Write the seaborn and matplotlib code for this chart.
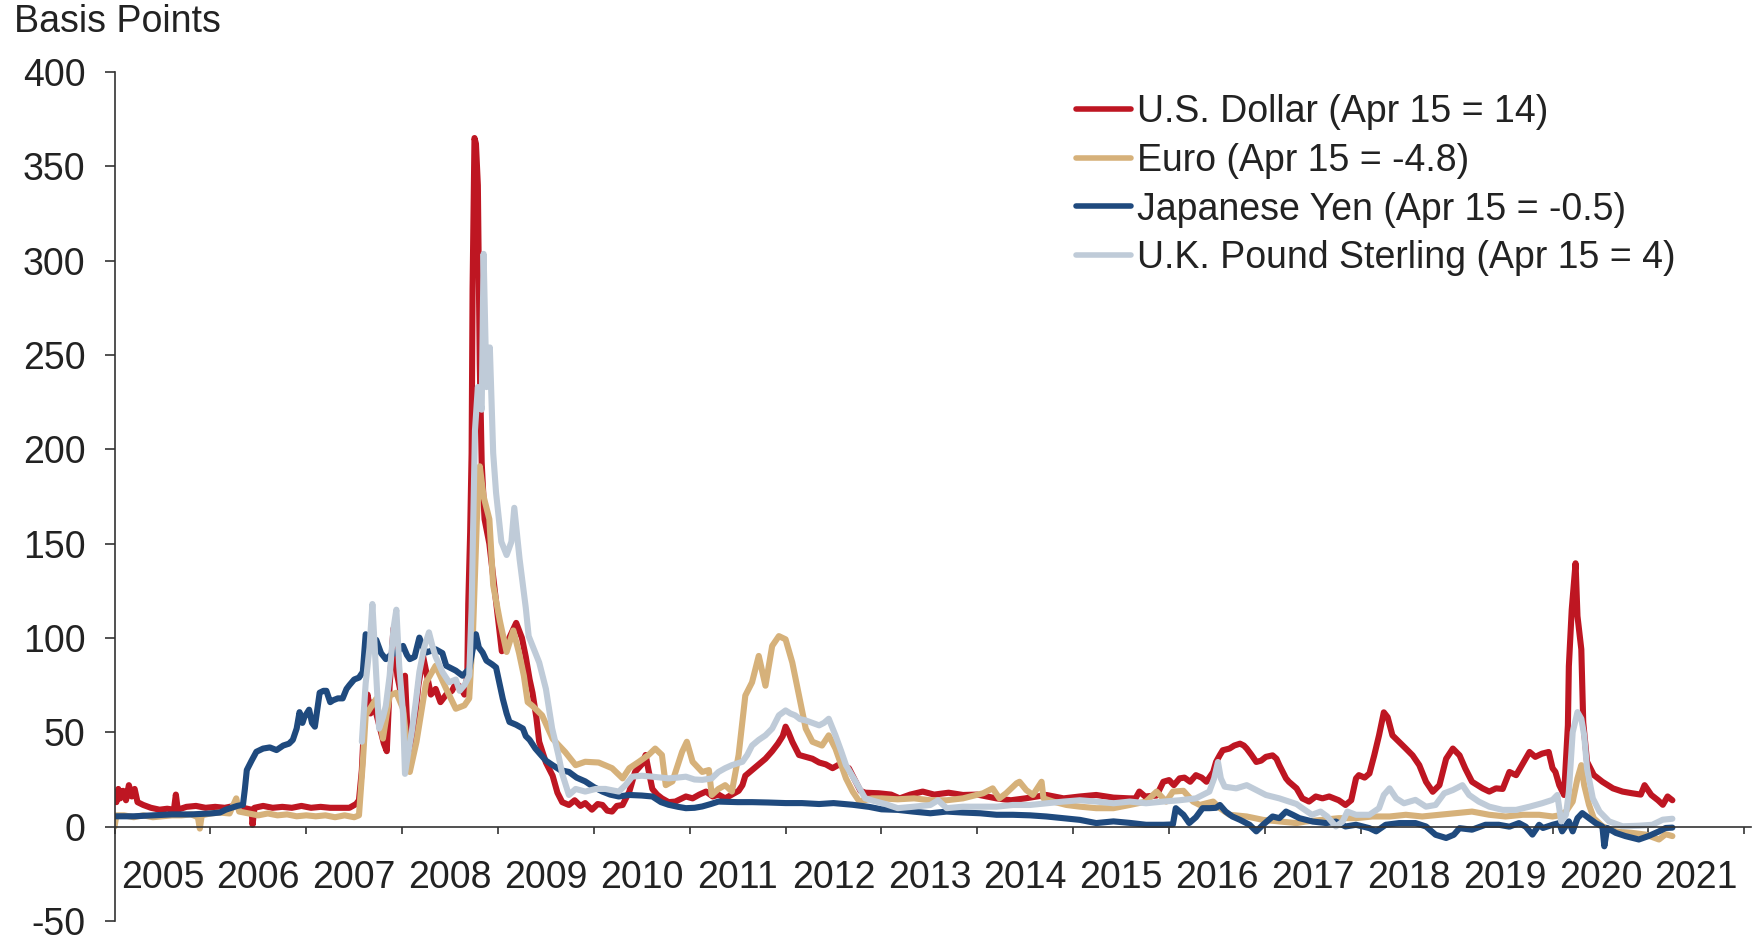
import matplotlib
matplotlib.use("Agg")
import matplotlib.pyplot as plt
from matplotlib.ticker import FixedLocator, NullFormatter, FixedFormatter
import seaborn as sns
import pandas as pd

# ---------------- data (decimal years, basis points) ----------------
USD_X = [2005.00, 2005.02, 2005.04, 2005.06, 2005.09, 2005.12, 2005.15, 2005.18, 2005.21, 2005.24,
         2005.30, 2005.38, 2005.47, 2005.55, 2005.62, 2005.64, 2005.66, 2005.75, 2005.85, 2005.95,
         2006.05, 2006.15, 2006.25, 2006.34, 2006.43, 2006.44, 2006.46, 2006.55, 2006.65, 2006.75,
         2006.85, 2006.95, 2007.05, 2007.15, 2007.25, 2007.35, 2007.45, 2007.52, 2007.55, 2007.58,
         2007.61, 2007.64, 2007.67, 2007.70, 2007.74, 2007.78, 2007.81, 2007.84, 2007.87, 2007.91,
         2007.95, 2007.99, 2008.03, 2008.06, 2008.09, 2008.13, 2008.17, 2008.22, 2008.26, 2008.30,
         2008.35, 2008.40, 2008.46, 2008.52, 2008.56, 2008.61, 2008.65, 2008.68, 2008.69, 2008.71,
         2008.725, 2008.735, 2008.755, 2008.77, 2008.79, 2008.81, 2008.83, 2008.86, 2008.91, 2008.96,
         2009.04, 2009.09, 2009.19, 2009.25, 2009.29, 2009.33, 2009.36, 2009.40, 2009.43, 2009.50,
         2009.57, 2009.62, 2009.67, 2009.74, 2009.80, 2009.86, 2009.91, 2009.98, 2010.04, 2010.09,
         2010.14, 2010.19, 2010.24, 2010.30, 2010.37, 2010.43, 2010.50, 2010.54, 2010.57, 2010.61,
         2010.66, 2010.71, 2010.78, 2010.85, 2010.96, 2011.03, 2011.10, 2011.17, 2011.24, 2011.30,
         2011.37, 2011.44, 2011.51, 2011.55, 2011.58, 2011.65, 2011.72, 2011.79, 2011.86, 2011.92,
         2011.97, 2012.00, 2012.03, 2012.07, 2012.14, 2012.21, 2012.28, 2012.35, 2012.42, 2012.49,
         2012.56, 2012.62, 2012.66, 2012.73, 2012.78, 2012.83, 2012.97, 2013.10, 2013.19, 2013.30,
         2013.43, 2013.55, 2013.70, 2013.85, 2014.00, 2014.20, 2014.35, 2014.50, 2014.72, 2014.90,
         2015.07, 2015.24, 2015.42, 2015.59, 2015.65, 2015.69, 2015.75, 2015.87, 2015.94, 2016.00,
         2016.05, 2016.11, 2016.16, 2016.22, 2016.28, 2016.34, 2016.39, 2016.46, 2016.49, 2016.53,
         2016.56, 2016.63, 2016.68, 2016.74, 2016.78, 2016.81, 2016.86, 2016.91, 2016.96, 2017.01,
         2017.08, 2017.12, 2017.15, 2017.22, 2017.25, 2017.33, 2017.39, 2017.46, 2017.53, 2017.60,
         2017.67, 2017.77, 2017.84, 2017.90, 2017.95, 2017.98, 2018.04, 2018.09, 2018.14, 2018.19,
         2018.24, 2018.28, 2018.33, 2018.40, 2018.47, 2018.54, 2018.61, 2018.68, 2018.75, 2018.82,
         2018.89, 2018.96, 2019.03, 2019.09, 2019.16, 2019.27, 2019.34, 2019.41, 2019.48, 2019.55,
         2019.62, 2019.69, 2019.76, 2019.82, 2019.89, 2019.96, 2020.00, 2020.03, 2020.07, 2020.12,
         2020.16, 2020.17, 2020.20, 2020.24, 2020.26, 2020.30, 2020.32, 2020.36, 2020.43, 2020.52,
         2020.63, 2020.73, 2020.83, 2020.92, 2020.96, 2021.03, 2021.10, 2021.15, 2021.20, 2021.25]
USD_Y = [17, 13, 20, 15, 19, 14, 22, 16, 20, 13,
         11.5, 10, 9, 9.5, 9, 17, 9, 10.5, 11, 10,
         10.5, 10, 11, 10, 9, 1, 10, 11, 10, 10.5,
         10, 11, 10, 10.5, 10, 10, 10, 12, 14, 30,
         62, 70, 60, 66, 58, 50, 44, 40, 75, 105,
         80, 70, 80, 45, 37, 55, 75, 90, 80, 70,
         73, 66, 70, 72, 76, 74, 70, 80, 118, 156,
         198, 285, 365, 362, 340, 245, 193, 163, 150, 128,
         93, 97, 108, 100, 90, 78, 71, 58, 45, 34,
         27, 18, 13, 11.5, 14, 11, 12.5, 9, 12, 11.5,
         8.5, 8, 11, 11.5, 18.6, 29, 33, 38, 30, 20,
         17, 15, 13, 13.3, 16, 15, 17, 18.6, 16, 17,
         15, 17, 19, 22, 27, 30, 33, 36, 40, 44,
         48, 53, 50, 45, 38, 37, 36, 34, 33, 31,
         33, 31, 31, 24, 19, 18, 17.7, 17, 15, 17,
         18.6, 17, 18, 16.8, 17, 15, 14, 15, 16.8, 15,
         16, 16.8, 15.4, 15, 15, 18.6, 16, 16.5, 23.8, 24.7,
         22, 25.6, 26, 23.8, 27.3, 26, 23.8, 29, 34.3, 38,
         40.5, 41.4, 43, 44, 43, 41.4, 38, 34.3, 35, 37,
         37.8, 36, 32.6, 25.6, 23.8, 20.3, 15, 13.3, 16, 15,
         16, 14, 11.5, 14, 25.6, 27.3, 26, 28.2, 37.8, 48.4,
         60.6, 58, 48.4, 44.9, 41.4, 37.8, 32.6, 23.8, 18.5, 22,
         36, 41.4, 37.8, 30.8, 23.8, 20.3, 18.6, 20.3, 20, 29,
         27.3, 33.5, 39.6, 37, 38.7, 39.6, 31, 29, 22, 16.8,
         53.7, 85, 115, 139.6, 111.6, 94, 55.4, 34.4, 27.4, 23.8,
         20.3, 18.6, 17.7, 17, 22, 16.8, 14, 11.6, 16, 14]

EUR_X = [2005.00, 2005.02, 2005.10, 2005.20, 2005.30, 2005.40, 2005.50, 2005.60, 2005.70, 2005.80,
         2005.87, 2005.89, 2005.91, 2006.00, 2006.10, 2006.20, 2006.27, 2006.30, 2006.40, 2006.50,
         2006.60, 2006.70, 2006.80, 2006.90, 2007.00, 2007.10, 2007.20, 2007.30, 2007.40, 2007.50,
         2007.55, 2007.59, 2007.62, 2007.73, 2007.80, 2007.87, 2007.94, 2008.01, 2008.08, 2008.15,
         2008.25, 2008.35, 2008.46, 2008.56, 2008.65, 2008.70, 2008.74, 2008.78, 2008.81, 2008.85,
         2008.91, 2008.95, 2009.02, 2009.09, 2009.16, 2009.22, 2009.27, 2009.31, 2009.36, 2009.46,
         2009.57, 2009.70, 2009.81, 2009.91, 2010.05, 2010.19, 2010.30, 2010.37, 2010.47, 2010.57,
         2010.64, 2010.71, 2010.75, 2010.82, 2010.92, 2010.97, 2011.03, 2011.13, 2011.20, 2011.23,
         2011.30, 2011.37, 2011.44, 2011.51, 2011.58, 2011.65, 2011.72, 2011.79, 2011.86, 2011.93,
         2012.00, 2012.07, 2012.14, 2012.21, 2012.28, 2012.38, 2012.45, 2012.52, 2012.63, 2012.70,
         2012.77, 2012.90, 2013.00, 2013.17, 2013.34, 2013.51, 2013.68, 2013.85, 2014.06, 2014.16,
         2014.23, 2014.30, 2014.41, 2014.44, 2014.51, 2014.58, 2014.67, 2014.69, 2014.79, 2014.93,
         2015.07, 2015.24, 2015.42, 2015.59, 2015.76, 2015.87, 2015.97, 2016.04, 2016.15, 2016.25,
         2016.32, 2016.46, 2016.53, 2016.63, 2016.81, 2016.98, 2017.15, 2017.33, 2017.42, 2017.60,
         2017.77, 2017.95, 2018.12, 2018.30, 2018.47, 2018.64, 2018.82, 2018.99, 2019.16, 2019.34,
         2019.51, 2019.69, 2019.86, 2020.00, 2020.07, 2020.14, 2020.21, 2020.26, 2020.30, 2020.33,
         2020.38, 2020.43, 2020.52, 2020.66, 2020.83, 2020.97, 2021.11, 2021.18, 2021.25]
EUR_Y = [0, 6, 6, 5, 6, 5, 5.5, 6, 6, 6.5,
         5, -1, 6, 7, 7.5, 7, 15, 8, 7, 6,
         7, 6, 6.5, 5.5, 6, 5.5, 6, 5, 6, 5,
         6, 34, 59, 67.8, 46.7, 69.5, 71, 62.5, 29, 45,
         76.5, 85.3, 73, 62.5, 64.3, 68, 104, 163, 191, 175,
         163, 128, 109, 92.6, 104, 92, 80, 66, 64, 59,
         46.6, 39.6, 32.6, 34.4, 34, 31, 25.6, 31, 34.4, 38,
         41.4, 38, 22, 24, 39.6, 45, 34.4, 29, 30, 16.8,
         20, 22, 18.6, 38, 69.5, 76.5, 90.5, 74.7, 95.8, 101,
         99.3, 87, 69.5, 52, 45, 43, 48.4, 41.4, 25.6, 18.6,
         13.3, 15, 15, 14.5, 15, 14, 14, 15, 17.7, 20.3,
         15, 17.7, 23, 23.8, 19.4, 16.8, 23.8, 15, 13.3, 11.5,
         10.6, 9.8, 9.8, 11.5, 13.3, 18.6, 13.3, 18.6, 19, 13.3,
         11.5, 13.3, 9.8, 6.3, 5.4, 3.6, 2.8, 1.9, 2.7, 3.6,
         4.5, 4.5, 5.4, 5.4, 6.3, 5.4, 6.3, 7.1, 8, 6.3,
         5.4, 6.3, 6.3, 5.4, 6, 8, 13.3, 25.6, 32.6, 22,
         11.6, 4.5, 0.2, -2.5, -3.3, -4.2, -6.8, -4, -5]

JPY_X = [2005.00, 2005.20, 2005.40, 2005.60, 2005.80, 2006.00, 2006.10, 2006.16, 2006.28, 2006.34,
         2006.36, 2006.38, 2006.43, 2006.48, 2006.55, 2006.62, 2006.69, 2006.76, 2006.82, 2006.86,
         2006.90, 2006.93, 2006.96, 2006.98, 2007.03, 2007.06, 2007.09, 2007.14, 2007.18, 2007.21,
         2007.25, 2007.28, 2007.33, 2007.38, 2007.42, 2007.45, 2007.50, 2007.55, 2007.59, 2007.62,
         2007.67, 2007.73, 2007.78, 2007.83, 2007.88, 2007.94, 2008.01, 2008.05, 2008.08, 2008.13,
         2008.18, 2008.22, 2008.25, 2008.35, 2008.42, 2008.46, 2008.56, 2008.63, 2008.70, 2008.74,
         2008.77, 2008.80, 2008.84, 2008.88, 2008.91, 2008.94, 2008.98, 2009.02, 2009.05, 2009.09,
         2009.12, 2009.19, 2009.26, 2009.29, 2009.33, 2009.39, 2009.50, 2009.57, 2009.65, 2009.74,
         2009.82, 2009.91, 2010.00, 2010.09, 2010.17, 2010.26, 2010.37, 2010.50, 2010.61, 2010.70,
         2010.78, 2010.88, 2010.96, 2011.05, 2011.13, 2011.22, 2011.30, 2011.50, 2011.65, 2011.82,
         2012.00, 2012.17, 2012.35, 2012.50, 2012.70, 2012.87, 2013.00, 2013.17, 2013.33, 2013.51,
         2013.68, 2013.85, 2014.03, 2014.20, 2014.37, 2014.55, 2014.72, 2014.90, 2015.07, 2015.24,
         2015.42, 2015.59, 2015.76, 2015.94, 2016.04, 2016.07, 2016.11, 2016.15, 2016.21, 2016.28,
         2016.35, 2016.42, 2016.49, 2016.53, 2016.59, 2016.66, 2016.74, 2016.84, 2016.91, 2016.98,
         2017.08, 2017.15, 2017.22, 2017.29, 2017.36, 2017.50, 2017.64, 2017.74, 2017.84, 2017.95,
         2018.09, 2018.16, 2018.26, 2018.40, 2018.57, 2018.68, 2018.78, 2018.89, 2018.97, 2019.03,
         2019.16, 2019.30, 2019.44, 2019.55, 2019.65, 2019.72, 2019.79, 2019.86, 2019.90, 2020.00,
         2020.07, 2020.10, 2020.17, 2020.21, 2020.26, 2020.31, 2020.38, 2020.45, 2020.52, 2020.54,
         2020.57, 2020.66, 2020.76, 2020.90, 2021.00, 2021.11, 2021.18, 2021.25]
JPY_Y = [5.5, 5.5, 6, 6.5, 6.5, 7, 7.5, 9, 11, 11.6,
         20, 30, 35, 39.7, 41.4, 42, 40.6, 43, 44, 46,
         52, 60.7, 55, 58, 62, 55, 53, 71, 72, 72,
         66, 67, 68, 68, 73, 75, 78, 79, 82, 102,
         100, 99, 92, 88.8, 91, 92.3, 95.8, 91, 88.8, 90,
         100.2, 95, 92.3, 94, 92, 85.3, 82.7, 80, 83.6, 95,
         102, 95, 92.3, 88, 87, 86, 84.4, 75, 67.8, 60,
         55.5, 54, 52, 48, 46, 41.4, 35, 32.6, 30, 29,
         26, 24, 21, 18.6, 17, 16, 16.8, 16.5, 16, 13,
         11.6, 10.5, 9.8, 10, 10.7, 12, 13.3, 13, 13, 12.8,
         12.5, 12.5, 12, 12.5, 11.6, 10.5, 9.2, 8.9, 8, 7.1,
         8, 7.5, 7.1, 6.3, 6.3, 6, 5.4, 4.5, 3.6, 1.9,
         2.8, 2, 1, 1, 1.2, 9.8, 8, 6.3, 1.9, 5,
         9.8, 9.8, 10, 11.5, 8, 5.4, 3.6, 1, -2.5, 1,
         5.4, 4.5, 8, 6.3, 4.5, 2.7, 1.9, 2.7, 0.1, 1,
         -0.8, -2.5, 1, 1.9, 1.9, 0.1, -4.3, -6, -4.3, -0.8,
         -1.6, 1, 1, 0, 1.9, 0, -4.2, 1, -0.7, 1,
         1.9, -2.5, 2.8, -2.5, 4.5, 7.2, 4.5, 1.9, 0, -10.4,
         -0.7, -3.3, -5, -6.8, -5, -2.5, -0.7, -0.5]

GBP_X = [2007.58, 2007.62, 2007.66, 2007.69, 2007.72, 2007.76, 2007.80, 2007.83, 2007.87, 2007.91,
         2007.94, 2007.97, 2008.01, 2008.03, 2008.06, 2008.10, 2008.14, 2008.18, 2008.23, 2008.28,
         2008.32, 2008.35, 2008.42, 2008.49, 2008.56, 2008.60, 2008.65, 2008.70, 2008.725, 2008.76,
         2008.79, 2008.83, 2008.85, 2008.88, 2008.915, 2008.95, 2008.98, 2009.035, 2009.09, 2009.14,
         2009.17, 2009.225, 2009.29, 2009.32, 2009.43, 2009.50, 2009.565, 2009.63, 2009.67, 2009.74,
         2009.81, 2009.91, 2010.02, 2010.12, 2010.26, 2010.33, 2010.40, 2010.50, 2010.61, 2010.70,
         2010.78, 2010.87, 2010.96, 2011.05, 2011.13, 2011.23, 2011.30, 2011.37, 2011.44, 2011.55,
         2011.60, 2011.65, 2011.72, 2011.79, 2011.86, 2011.93, 2012.00, 2012.05, 2012.10, 2012.15,
         2012.21, 2012.28, 2012.35, 2012.40, 2012.45, 2012.52, 2012.58, 2012.63, 2012.73, 2012.83,
         2012.93, 2013.04, 2013.17, 2013.34, 2013.51, 2013.59, 2013.68, 2013.85, 2014.03, 2014.20,
         2014.37, 2014.55, 2014.72, 2014.90, 2015.07, 2015.24, 2015.42, 2015.59, 2015.76, 2015.94,
         2016.11, 2016.28, 2016.42, 2016.47, 2016.51, 2016.54, 2016.58, 2016.70, 2016.81, 2016.91,
         2017.01, 2017.15, 2017.25, 2017.33, 2017.39, 2017.49, 2017.58, 2017.65, 2017.74, 2017.81,
         2017.86, 2017.95, 2018.09, 2018.19, 2018.24, 2018.30, 2018.37, 2018.45, 2018.57, 2018.68,
         2018.78, 2018.87, 2018.96, 2019.06, 2019.13, 2019.23, 2019.34, 2019.48, 2019.62, 2019.76,
         2019.89, 2020.00, 2020.05, 2020.09, 2020.14, 2020.17, 2020.21, 2020.26, 2020.30, 2020.33,
         2020.36, 2020.42, 2020.49, 2020.59, 2020.73, 2020.90, 2021.04, 2021.15, 2021.25]
GBP_Y = [45, 76, 95, 118, 90, 52, 58, 64, 80, 105,
         115, 85, 60, 28, 38, 50, 65, 82, 95, 103,
         95, 90, 82, 76.5, 78, 72, 75, 80, 116, 210,
         233, 221, 303.6, 233, 254, 198, 177, 151, 144, 151,
         169, 142, 116, 101, 87, 73, 52, 38, 28, 16.8,
         20, 18.6, 20, 20, 18.6, 22, 26.5, 27, 26.5, 26,
         25.6, 26, 26.5, 25, 24.8, 25.6, 29, 31, 32.6, 34.4,
         38, 43, 46, 48.4, 52, 59, 61.6, 60, 59, 57,
         56.3, 55, 53.7, 55, 57.2, 48.4, 40, 32.6, 24, 15,
         13.5, 12, 9.8, 10.6, 11.5, 14, 9.8, 10.6, 10.6, 10.6,
         11.5, 11.5, 12.4, 13.3, 14, 13.3, 12.4, 13.3, 12.4, 13.3,
         14, 15, 18.6, 25.6, 34.3, 25.6, 21.2, 20.3, 22, 19.4,
         16.8, 15, 13.3, 12, 9.8, 6.3, 8, 5.4, 0.1, 2.7,
         8, 6.3, 6.3, 9.8, 16.8, 20.3, 15, 12.4, 14.2, 10.6,
         11.5, 17.7, 19.4, 22, 16.8, 13.3, 10.6, 8.9, 8.9, 10.6,
         12.4, 14.2, 16.8, 2.8, 6.3, 18.6, 50, 60.7, 57.2, 48.4,
         30.8, 15, 8, 2.8, 0.2, 0.5, 1, 3.7, 4.2]

SERIES = ["U.S. Dollar (Apr 15 = 14)", "Euro (Apr 15 = -4.8)",
          "Japanese Yen (Apr 15 = -0.5)", "U.K. Pound Sterling (Apr 15 = 4)"]
COLORS = ["#BE1622", "#D6B17A", "#1F4A7E", "#BFCBD8"]
YEAR_LABELS = [str(y) for y in range(2005, 2022)]
Y_TICKS = list(range(-50, 401, 50))

# ---------------- styling ----------------
sns.set_theme(style="white")
plt.rcParams["font.family"] = ["Liberation Sans", "DejaVu Sans"]
TXT = "#222222"

W, H = 1762, 943
TOP_PX, BOT_PX = 72, 921
fig = plt.figure(figsize=(W / 100, H / 100), dpi=100)
ax = fig.add_axes([114.5 / W, (H - BOT_PX) / H, (1751 - 114.5) / W, (BOT_PX - TOP_PX) / H])

data = [(USD_X, USD_Y), (EUR_X, EUR_Y), (JPY_X, JPY_Y), (GBP_X, GBP_Y)]
for (xs, ys), name, col in zip(data, SERIES, COLORS):
    df = pd.DataFrame({"year": xs, "bp": ys})
    sns.lineplot(data=df, x="year", y="bp", ax=ax, color=col, linewidth=4.4,
                 estimator=None, sort=False, label=name,
                 solid_capstyle="round", solid_joinstyle="round")

ax.set_xlim(2005.0, 2022.07)
ax.set_ylim(-50, 400)
ax.set_xlabel("")
ax.set_ylabel("")

for s in ["top", "right"]:
    ax.spines[s].set_visible(False)
ax.spines["bottom"].set_position(("data", 0))
for s in ["left", "bottom"]:
    ax.spines[s].set_color("#333333")
    ax.spines[s].set_linewidth(1.2)

ax.xaxis.set_major_locator(FixedLocator(list(range(2005, 2023))))
ax.xaxis.set_major_formatter(NullFormatter())
ax.xaxis.set_minor_locator(FixedLocator([y + 0.5 for y in range(2005, 2022)]))
ax.xaxis.set_minor_formatter(FixedFormatter(YEAR_LABELS))
ax.tick_params(axis="x", which="major", direction="out", length=5, width=1.2,
               color="#333333", bottom=True)
ax.tick_params(axis="x", which="minor", length=0, pad=24, labelsize=27,
               labelcolor=TXT, bottom=True)

ax.set_yticks(Y_TICKS)
ax.set_yticklabels([str(v) for v in Y_TICKS])
ax.tick_params(axis="y", direction="out", length=7, width=1.2, color="#333333",
               pad=14, labelsize=27, labelcolor=TXT, left=True)
ax.grid(False)

fig.text(13.5 / W, 1 - 22.5 / H, "Basis Points", ha="left", va="center",
         fontsize=27, color=TXT)

leg = ax.legend(loc="upper left", bbox_to_anchor=(1076 / W, 1 - 94 / H),
                bbox_transform=fig.transFigure, frameon=False, fontsize=27,
                handlelength=1.47, handletextpad=0.16, labelspacing=0.34,
                borderpad=0, borderaxespad=0)
for t in leg.get_texts():
    t.set_color(TXT)
for l in leg.get_lines():
    l.set_linewidth(4.0)

fig.savefig("out.png", dpi=100)
